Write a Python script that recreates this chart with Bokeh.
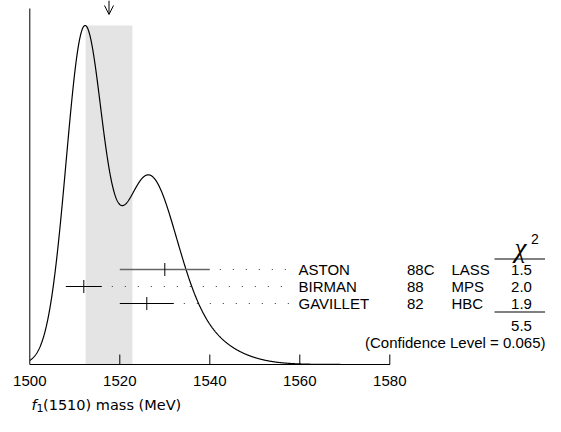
import numpy as np
from bokeh.plotting import figure
from bokeh.models import Range1d, Arrow, OpenHead
from bokeh.core.properties import value
from bokeh.embed import file_html
from bokeh.resources import INLINE

# ---------------- data ----------------
names = ["ASTON", "BIRMAN", "GAVILLET"]
years = ["88C", "88", "82"]
techs = ["LASS", "MPS", "HBC"]
values = [1530.0, 1512.0, 1526.0]
errors = [10.0, 4.0, 6.0]
chi2 = ["1.5", "2.0", "1.9"]
chi2_total = ["5.5"]
conf_text = ["(Confidence Level = 0.065)"]
avg_value = 1517.6
avg_error = 5.2
ticks = [1500, 1520, 1540, 1560, 1580]
tick_labels = ["1500", "1520", "1540", "1560", "1580"]
label_main = "(1510) mass (MeV)"

rows = list(range(len(names)))

# ideogram: sum of Gaussians, area proportional to 1/sigma
xs = np.linspace(1500, 1580, 1601)
ys = np.zeros_like(xs)
for v, e in zip(values, errors):
    ys += (1.0 / e**2) * np.exp(-((xs - v) ** 2) / (2 * e**2))
ymax = ys.max()

# ---------------- layout (pixels) ----------------
W, H = 545, 416
TOP, BASE, PEAK = 8, 364, 25
px_per_mev = 4.5
x_start = 1500 - 29.3 / px_per_mev
x_end = x_start + W / px_per_mev
k = ymax / (BASE - PEAK)            # data units per pixel (vertical)

p = figure(width=W, height=H, x_range=Range1d(x_start, x_end),
           y_range=Range1d(-(H - BASE) * k, BASE * k),
           output_backend="svg", toolbar_location=None,
           x_axis_location=None, y_axis_location=None,
           min_border_left=0, min_border_right=0, min_border_top=0, min_border_bottom=0)
p.outline_line_color = None
p.grid.visible = False
p.background_fill_color = "white"

p.extra_x_ranges = {"px": Range1d(0, W)}
p.extra_y_ranges = {"py": Range1d(H, 0),
                    "rows": Range1d((H - 269) / 17.0, (0 - 269) / 17.0)}

# weighted average band
p.quad(left=[avg_value - avg_error], right=[avg_value + avg_error], bottom=[0], top=[ymax],
       fill_color="#e4e4e4", line_color=None)

# axes: baseline, left line, ticks, tick labels
p.segment(x0=[ticks[0]], x1=[ticks[-1]], y0=[0], y1=[0], line_color="black", line_width=1)
p.segment(x0=[ticks[0]], x1=[ticks[0]], y0=[0], y1=[(BASE - TOP) * k],
          line_color="black", line_width=1)
p.segment(x0=ticks[1:], x1=ticks[1:], y0=[0] * 4, y1=[10 * k] * 4,
          line_color="black", line_width=1)
p.text(x=ticks, y=[380] * len(ticks), text=tick_labels, y_range_name="py",
       text_font=value("Liberation Sans"), text_font_size="15px", text_color="black",
       text_align="center", text_baseline="middle")

# ideogram curve
p.line(xs, ys, line_color="black", line_width=1.2)

# measurements
lo = [v - e for v, e in zip(values, errors)]
hi = [v + e for v, e in zip(values, errors)]
gap = 10 / px_per_mev
lead_end = 1500 + (291 - 29.3) / px_per_mev
p.segment(x0=[h + gap for h in hi], x1=[lead_end] * len(hi), y0=rows, y1=rows,
          y_range_name="rows", line_color="#333333", line_width=1, line_dash="1 12")
p.segment(x0=lo, x1=hi, y0=rows, y1=rows, y_range_name="rows",
          line_color=["#666666", "black", "black"], line_width=[1.6, 1, 1])
p.scatter(x=values, y=rows, y_range_name="rows", marker="dash", angle=np.pi / 2,
          size=13, line_color="black", line_width=1)

# arrow at the average
p.add_layout(Arrow(x_start=avg_value, y_start=0, x_end=avg_value, y_end=14, y_range_name="py",
                   line_color="black", line_width=1,
                   end=OpenHead(size=9, line_color="black", line_width=1)))

# table text
font = value("Liberation Sans")
tkw = dict(x_range_name="px", y_range_name="rows", text_font=font, text_font_size="15px",
           text_baseline="middle", text_color="black")
p.text(x=[298] * 3, y=rows, text=names, text_align="left", **tkw)
p.text(x=[406.5] * 3, y=rows, text=years, text_align="left", **tkw)
p.text(x=[451] * 3, y=rows, text=techs, text_align="left", **tkw)
p.text(x=[521] * 3, y=rows, text=chi2, text_align="center", **tkw)

p.segment(x0=[494, 494], x1=[545, 545], y0=[258.5, 311.5], y1=[258.5, 311.5],
          x_range_name="px", y_range_name="py", line_color="black", line_width=1)
p.text(x=[521], y=[325.5], text=chi2_total, x_range_name="px", y_range_name="py",
       text_font=font, text_font_size="15px", text_baseline="middle", text_align="center")
p.text(x=[545], y=[342], text=conf_text, x_range_name="px", y_range_name="py",
       text_font=font, text_font_size="15px", text_baseline="middle", text_align="right")

# chi^2 header
p.text(x=[520], y=[247], text=["χ"], x_range_name="px", y_range_name="py",
       text_font=value("Liberation Serif"), text_font_style="italic", text_font_size="27px",
       text_baseline="alphabetic", text_align="center")
p.text(x=[530.5], y=[238], text=["2"], x_range_name="px", y_range_name="py",
       text_font=font, text_font_size="14px", text_baseline="alphabetic", text_align="left")

# x-axis label (f italic with subscript 1)
lkw = dict(x_range_name="px", y_range_name="py", text_font=value("DejaVu Sans"),
           text_color="black", text_baseline="alphabetic", text_align="left")
p.text(x=[31], y=[404], text=["f"], text_font_style="italic", text_font_size="14.5px", **lkw)
p.text(x=[36], y=[407.5], text=["1"], text_font_size="11px", **lkw)
p.text(x=[42.5], y=[404], text=[label_main], text_font_size="14.5px", **lkw)

open("out.html", "w").write(file_html(p, INLINE))
